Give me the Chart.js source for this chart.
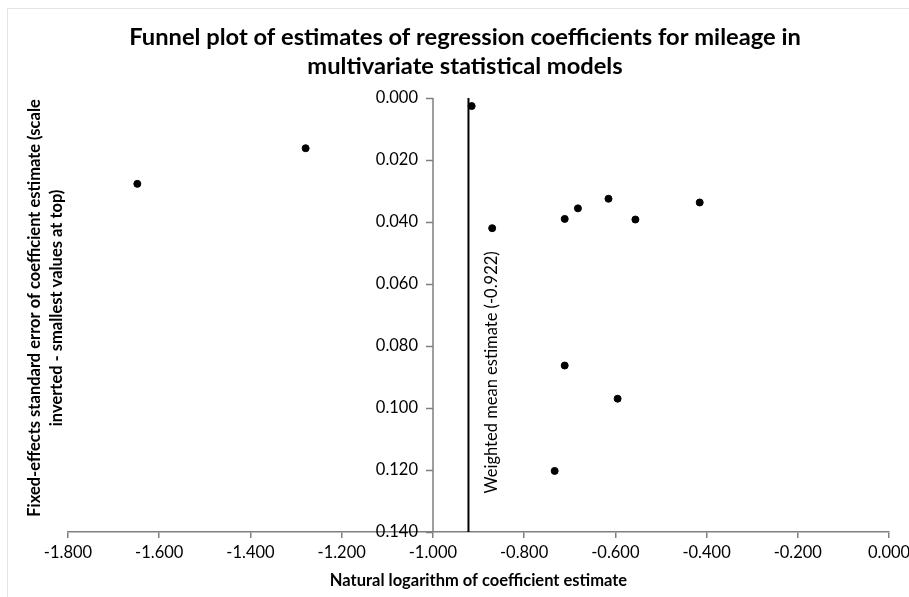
<!DOCTYPE html>
<html>
<head>
<meta charset="utf-8">
<script src="https://cdn.jsdelivr.net/npm/chart.js@4/dist/chart.umd.min.js"></script>
<style>
  html, body { margin: 0; padding: 0; background: #fff; }
  #wrap { width: 909px; height: 597px; position: relative; }
</style>
</head>
<body>
<div id="wrap"><canvas id="grafico" width="909" height="597"></canvas></div>
<script>
// log coefficient estimates (x) and fixed-effects standard errors (y)
const estimativas = [-1.648, -1.279, -0.915, -0.870, -0.711, -0.682, -0.615, -0.556, -0.415, -0.711, -0.595, -0.733];
const errosPadrao = [0.0277, 0.0162, 0.0026, 0.0420, 0.0390, 0.0356, 0.0325, 0.0392, 0.0337, 0.0863, 0.0970, 0.1203];
const mediaPonderada = -0.922;
const limitesX = [-1.8, 0];
const limitesY = [0, 0.14];
const cruzamentoY = -1.0; // y axis crosses the x axis here

const tituloLinhas = ['Funnel plot of estimates of regression coefficients for mileage in', 'multivariate statistical models'];
const tituloY = ['Fixed-effects standard error of coefficient estimate (scale', 'inverted - smallest values at top)'];
const tituloX = 'Natural logarithm of coefficient estimate';
const rotuloMedia = 'Weighted mean estimate (' + mediaPonderada.toFixed(3) + ')';

const fonte = 'Lato, "Open Sans", sans-serif';
const corEixo = '#7f7f7f';

const pontos = estimativas.map((x, i) => ({ x: x, y: errosPadrao[i] }));
const linhaMedia = [{ x: mediaPonderada, y: limitesY[0] }, { x: mediaPonderada, y: limitesY[1] }];

// y axis sits inside the plot at x = -1, so its line, ticks and labels are drawn here from the scale
const eixoCentral = {
  id: 'eixoCentral',
  beforeDraw(chart) {
    const ctx = chart.ctx;
    ctx.save();
    ctx.strokeStyle = '#e3e3e3';
    ctx.lineWidth = 1;
    ctx.strokeRect(7.5, 8.5, 960, 700);
    ctx.restore();
  },
  afterDraw(chart) {
    const ctx = chart.ctx;
    const xs = chart.scales.x;
    const ys = chart.scales.y;
    const x0 = Math.round(xs.getPixelForValue(cruzamentoY));

    ctx.save();
    ctx.strokeStyle = corEixo;
    ctx.lineWidth = 1.5;
    ctx.beginPath();
    ctx.moveTo(x0, ys.getPixelForValue(limitesY[0]));
    ctx.lineTo(x0, ys.getPixelForValue(limitesY[1]));
    ys.ticks.forEach((t) => {
      const py = Math.round(ys.getPixelForValue(t.value)) + 0.5;
      ctx.moveTo(x0 - 7, py);
      ctx.lineTo(x0, py);
    });
    ctx.stroke();

    ctx.fillStyle = '#000';
    ctx.font = '16.5px ' + fonte;
    ctx.textAlign = 'right';
    ctx.textBaseline = 'middle';
    ys.ticks.forEach((t) => {
      ctx.fillText(Number(t.value).toFixed(3), x0 - 15, ys.getPixelForValue(t.value));
    });

    ctx.textAlign = 'center';
    ctx.font = 'bold 23.7px ' + fonte;
    ctx.fillText(tituloLinhas[0], 465, 37);
    ctx.fillText(tituloLinhas[1], 465, 66);

    ctx.save();
    ctx.translate(35, 308);
    ctx.rotate(-Math.PI / 2);
    ctx.font = 'bold 16.5px ' + fonte;
    ctx.fillText(tituloY[0], 0, 0);
    ctx.fillText(tituloY[1], 0, 22);
    ctx.restore();

    ctx.save();
    ctx.translate(xs.getPixelForValue(mediaPonderada) + 23, ys.getPixelForValue(0.0885));
    ctx.rotate(-Math.PI / 2);
    ctx.font = '16.5px ' + fonte;
    ctx.fillText(rotuloMedia, 0, 0);
    ctx.restore();

    ctx.restore();
  }
};

new Chart(document.getElementById('grafico'), {
  type: 'scatter',
  data: {
    datasets: [
      {
        data: linhaMedia,
        showLine: true,
        borderColor: '#000',
        borderWidth: 2,
        pointRadius: 0
      },
      {
        data: pontos,
        backgroundColor: '#000',
        borderColor: '#000',
        pointRadius: 3.5,
        pointHoverRadius: 3.5
      }
    ]
  },
  options: {
    responsive: false,
    animation: false,
    events: [],
    layout: { padding: { left: 68, right: 0, top: 98, bottom: 0 } },
    plugins: {
      legend: { display: false },
      tooltip: { enabled: false }
    },
    scales: {
      x: {
        type: 'linear',
        min: limitesX[0],
        max: limitesX[1],
        afterFit: (s) => {
          s.height = 65;
          s.paddingLeft = 0;
          s.paddingRight = 20;
        },
        ticks: {
          stepSize: 0.2,
          color: '#000',
          padding: 5,
          font: { family: fonte, size: 16.5 },
          callback: (v) => Number(v).toFixed(3)
        },
        grid: { drawOnChartArea: false, drawTicks: true, tickLength: 6, color: corEixo, lineWidth: 1.5 },
        border: { display: true, color: corEixo, width: 1.5 },
        title: {
          display: true,
          text: tituloX,
          color: '#000',
          padding: { top: 2, bottom: 6 },
          font: { family: fonte, size: 16.5, weight: 'bold' }
        }
      },
      y: {
        type: 'linear',
        position: { x: cruzamentoY },
        min: limitesY[0],
        max: limitesY[1],
        reverse: true,
        ticks: { stepSize: 0.02, display: false },
        grid: { display: false },
        border: { display: false }
      }
    }
  },
  plugins: [eixoCentral]
});
</script>
</body>
</html>
